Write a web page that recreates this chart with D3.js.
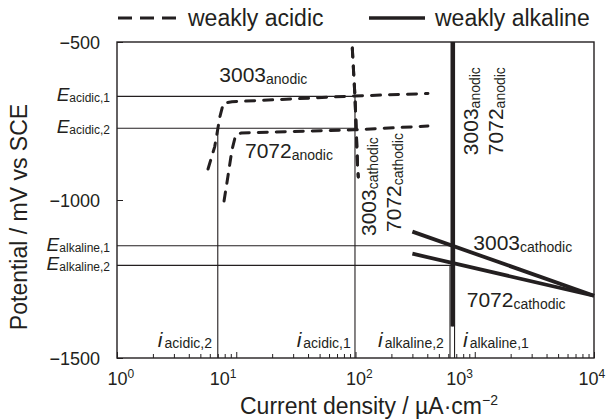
<!DOCTYPE html>
<html>
<head>
<meta charset="utf-8">
<script src="https://cdn.jsdelivr.net/npm/d3@7"></script>
<style>
  body { margin: 0; background: #fff; }
  text { font-family: "Liberation Sans", Arial, sans-serif; fill: #231f20; }
</style>
</head>
<body>
<div id="chart"></div>
<script>
// weakly acidic curves (dashed), [current µA/cm2, potential mV]
const acid3003Anodic = [[5.8, -902], [6.6, -831], [7.3, -736], [7.8, -694], [9.2, -689], [96, -671], [405, -663]];
const acid7072Anodic = [[7.9, -1003], [8.5, -927], [9.2, -842], [9.9, -794], [11, -788], [96, -778], [405, -766]];
const acid3003Cathodic = [[94, -519], [99, -674], [104, -889], [105.5, -927]];
const acid7072Cathodic = [[94, -519], [99, -674], [104, -889], [105.5, -927]];

// weakly alkaline curves (solid)
const alk3003Anodic = [[667, -1400], [667, -500]];
const alk7072Anodic = [[642, -1400], [642, -500]];
const alk3003Cathodic = [[300, -1100], [10000, -1303]];
const alk7072Cathodic = [[300, -1170], [10000, -1303]];

// corrosion potentials (E) and currents (i)
const potNames = ["acidic,1", "acidic,2", "alkaline,1", "alkaline,2"];
const potValues = [-672, -773, -1145, -1207];
const potEnds = [99, 99, 655, 655];
const curNames = ["acidic,2", "acidic,1", "alkaline,2", "alkaline,1"];
const curValues = [7, 99, 620, 677];
const curTops = [-773, -672, -1207, -1145];

const xTicks = [1, 10, 100, 1000, 10000];
const yTicks = [-500, -1000, -1500];

const W = 608, H = 419;
const ink = "#231f20";

const svg = d3.select("#chart").append("svg")
  .attr("width", W).attr("height", H);

const x = d3.scaleLog().domain([1, 1e4]).range([117, 594]);
const y = d3.scaleLinear().domain([-500, -1500]).range([42, 358]);

const line = d3.line().x(d => x(d[0])).y(d => y(d[1]));

// minor ticks on the x axis (inside)
const minor = [];
for (let e = 0; e < 4; e++) for (let k = 2; k <= 9; k++) minor.push(k * Math.pow(10, e));

svg.append("g")
  .attr("transform", `translate(0,${y(-1500)})`)
  .call(d3.axisBottom(x).tickValues(minor).tickSize(-4).tickFormat(""))
  .call(g => g.select(".domain").remove())
  .call(g => g.selectAll("line").attr("stroke", ink));

// x major ticks + labels (labels sit a little off some ticks, as in the original)
const labelNudge = { 10: -17, 1000: -19, 10000: -6 };
const xAxis = svg.append("g")
  .attr("transform", `translate(0,${y(-1500)})`)
  .call(d3.axisBottom(x).tickValues(xTicks).tickSize(-6).tickPadding(15).tickFormat(""))
  .call(g => g.select(".domain").remove())
  .call(g => g.selectAll("line").attr("stroke", ink));
xAxis.selectAll(".tick text")
  .attr("text-anchor", "start")
  .attr("dx", d => -10 + (labelNudge[d] || 0))
  .attr("y", 27).attr("dy", 0)
  .style("font-size", "18px")
  .each(function (d) {
    const t = d3.select(this);
    t.text("10");
    t.append("tspan").attr("dy", -7).style("font-size", "12px").text(Math.round(Math.log10(d)));
  });

// y axis
svg.append("g")
  .attr("transform", `translate(${x(1)},0)`)
  .call(d3.axisLeft(y).tickValues(yTicks).tickSize(-6).tickPadding(17).tickFormat(d => "\u2212" + Math.abs(d)))
  .call(g => g.select(".domain").remove())
  .call(g => g.selectAll("line").attr("stroke", ink))
  .call(g => g.selectAll("text").style("font-size", "18px").attr("dy", "0.36em"));

// reference lines
potValues.forEach((E, k) => {
  svg.append("line")
    .attr("x1", x(1)).attr("x2", x(potEnds[k]))
    .attr("y1", y(E)).attr("y2", y(E))
    .attr("stroke", ink).attr("stroke-width", 1.1);
  const t = svg.append("text")
    .attr("x", 110).attr("y", y(E) + 5)
    .attr("text-anchor", "end");
  t.append("tspan").style("font-size", "19px").style("font-style", "italic").text("E");
  t.append("tspan").attr("dy", 1).style("font-size", "12px").text(potNames[k]);
});
curValues.forEach((i, k) => {
  svg.append("line")
    .attr("x1", x(i)).attr("x2", x(i))
    .attr("y1", y(curTops[k])).attr("y2", y(-1500))
    .attr("stroke", ink).attr("stroke-width", 1.1);
});

// curves
const dashed = [acid3003Anodic, acid7072Anodic, acid3003Cathodic, acid7072Cathodic];
dashed.forEach(d => svg.append("path")
  .attr("d", line(d)).attr("fill", "none")
  .attr("stroke", ink).attr("stroke-width", 3)
  .attr("stroke-dasharray", "9,9").attr("stroke-linecap", "round"));

[alk3003Anodic, alk7072Anodic].forEach(d => svg.append("path")
  .attr("d", line(d)).attr("fill", "none")
  .attr("stroke", ink).attr("stroke-width", 2.6));
[alk3003Cathodic, alk7072Cathodic].forEach(d => svg.append("path")
  .attr("d", line(d)).attr("fill", "none")
  .attr("stroke", ink).attr("stroke-width", 3.8));

// frame
svg.append("rect")
  .attr("x", x(1)).attr("y", y(-500))
  .attr("width", x(1e4) - x(1)).attr("height", y(-1500) - y(-500))
  .attr("fill", "none").attr("stroke", ink).attr("stroke-width", 1.4);

// curve labels: [main, sub, current, potential, rotated]
const curveLabels = [
  ["3003", "anodic", 7.21, -626, false],
  ["7072", "anodic", 11.84, -868, false],
  ["3003", "cathodic", 148, -1114, true],
  ["7072", "cathodic", 241, -1101, true],
  ["3003", "anodic", 1065, -858, true],
  ["7072", "anodic", 1726, -858, true],
  ["3003", "cathodic", 972, -1158, false],
  ["7072", "cathodic", 856, -1338, false]
];
curveLabels.forEach(([m, s, i, E, rot]) => {
  const t = svg.append("text")
    .attr("transform", `translate(${x(i)},${y(E)})` + (rot ? " rotate(-90)" : ""));
  t.append("tspan").style("font-size", "21px").text(m);
  t.append("tspan").attr("dy", 2).style("font-size", "14px").text(s);
});

// current labels
const curLabelAt = [2.2, 32.1, 154.5, 797];
curNames.forEach((n, k) => {
  const t = svg.append("text").attr("x", x(curLabelAt[k])).attr("y", y(-1465));
  t.append("tspan").style("font-size", "21px").style("font-style", "italic").text("i");
  t.append("tspan").attr("dx", 2).attr("dy", 1).style("font-size", "14px").text(n);
});

// axis titles
svg.append("text")
  .attr("x", 369).attr("y", 414)
  .attr("text-anchor", "middle")
  .style("font-size", "23px")
  .call(t => {
    t.append("tspan").text("Current density / \u00b5A\u00b7cm");
    t.append("tspan").attr("dy", -9).style("font-size", "14px").text("\u22122");
  });
svg.append("text")
  .attr("transform", "translate(27,217) rotate(-90)")
  .attr("text-anchor", "middle")
  .style("font-size", "23px")
  .text("Potential / mV vs SCE");

// legend
const legend = svg.append("g");
legend.append("line").attr("x1", 118).attr("x2", 176).attr("y1", 18).attr("y2", 18)
  .attr("stroke", ink).attr("stroke-width", 3.2).attr("stroke-dasharray", "14,8");
legend.append("text").attr("x", 188).attr("y", 26).style("font-size", "23px").text("weakly acidic");
legend.append("line").attr("x1", 369).attr("x2", 425).attr("y1", 18).attr("y2", 18)
  .attr("stroke", ink).attr("stroke-width", 3.6);
legend.append("text").attr("x", 435).attr("y", 26).style("font-size", "23px").text("weakly alkaline");
</script>
</body>
</html>
